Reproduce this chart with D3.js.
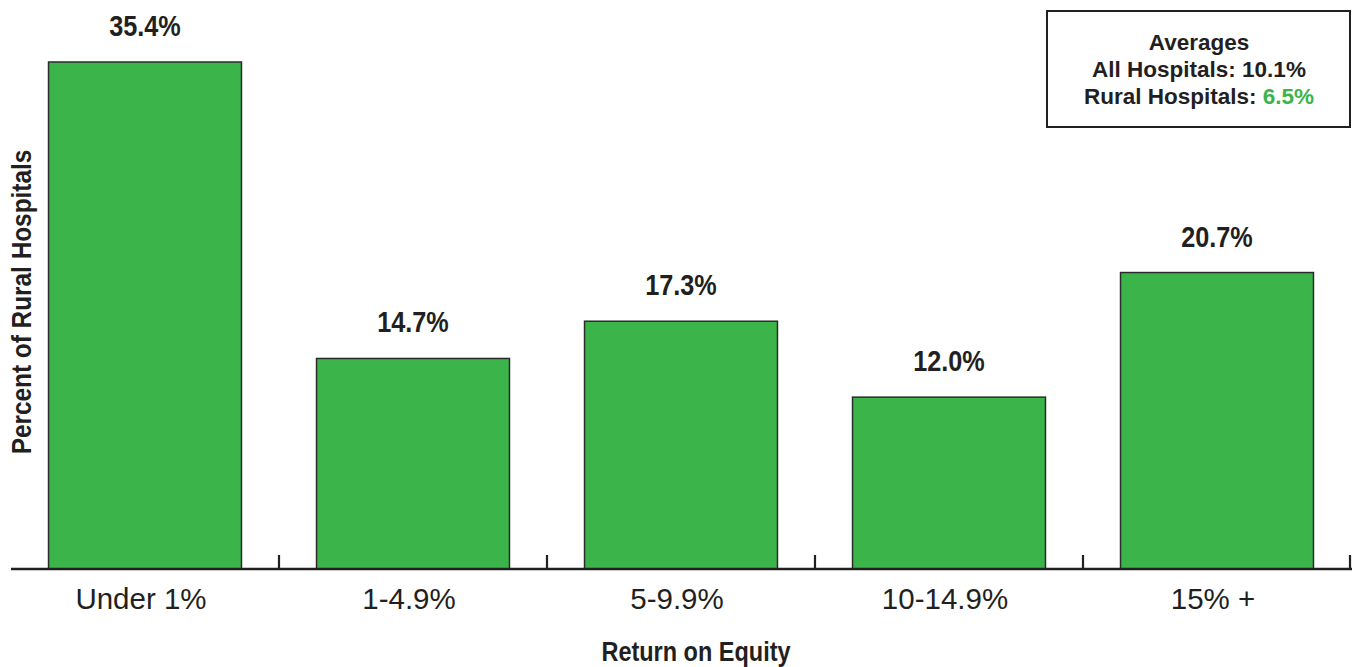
<!DOCTYPE html>
<html>
<head>
<meta charset="utf-8">
<script src="https://cdn.jsdelivr.net/npm/d3@7"></script>
<style>
  html, body { margin: 0; padding: 0; background: #fff; }
  svg { display: block; }
</style>
</head>
<body>
<svg id="chart" width="1353" height="667"></svg>
<script>
const categories = ["Under 1%", "1-4.9%", "5-9.9%", "10-14.9%", "15% +"];
const values = [35.4, 14.7, 17.3, 12.0, 20.7];
const valueLabels = ["35.4%", "14.7%", "17.3%", "12.0%", "20.7%"];
const xTitle = "Return on Equity";
const yTitle = "Percent of Rural Hospitals";
const legendTitle = "Averages";
const legendAllLabel = "All Hospitals: ";
const legendAllValue = "10.1%";
const legendRuralLabel = "Rural Hospitals: ";
const legendRuralValue = "6.5%";

const green = "#3bb54a";
const ink = "#231f20";
const font = "'Liberation Sans', Arial, Helvetica, sans-serif";
const squeeze = 0.87;

const svg = d3.select("#chart");

const x = d3.scaleBand().domain(categories).range([11, 1351]).paddingInner(0.28).paddingOuter(0.14);
const y = d3.scaleLinear().domain([0, d3.max(values)]).range([569, 62]);

// bars
svg.selectAll("rect.bar").data(values).join("rect")
  .attr("class", "bar")
  .attr("x", (d, i) => x(categories[i]))
  .attr("y", d => y(d))
  .attr("width", x.bandwidth())
  .attr("height", d => y(0) - y(d))
  .attr("fill", green)
  .attr("stroke", "#2b2b2b")
  .attr("stroke-width", 1.5);

// value labels (condensed bold)
svg.selectAll("text.val").data(values).join("text")
  .attr("class", "val")
  .attr("transform", (d, i) => `translate(${x(categories[i]) + x.bandwidth() / 2},${y(d) - 26}) scale(${squeeze},1)`)
  .attr("text-anchor", "middle")
  .attr("font-family", font)
  .attr("font-weight", "bold")
  .attr("font-size", 29)
  .attr("fill", ink)
  .text((d, i) => valueLabels[i]);

// x axis
const axis = d3.axisBottom(x).tickSize(0).tickPadding(0).tickFormat(d => d);
const gx = svg.append("g").attr("transform", `translate(0,${y(0)})`).call(axis);
gx.select(".domain").remove();
gx.selectAll(".tick text")
  .attr("font-family", font)
  .attr("font-size", 29.5)
  .attr("fill", ink)
  .attr("x", -4)
  .attr("y", 40)
  .attr("dy", 0);

svg.append("line")
  .attr("x1", 11).attr("x2", 1352)
  .attr("y1", y(0)).attr("y2", y(0))
  .attr("stroke", ink).attr("stroke-width", 2.5);

// boundary ticks between categories and at the right end
const boundaries = categories.map(c => x(c) + x.bandwidth() + x.step() * x.paddingInner() / 2);
svg.selectAll("line.tk").data(boundaries).join("line")
  .attr("class", "tk")
  .attr("x1", d => Math.min(d, 1350)).attr("x2", d => Math.min(d, 1350))
  .attr("y1", y(0) - 14).attr("y2", y(0))
  .attr("stroke", ink).attr("stroke-width", 2.2);

// axis titles
svg.append("text")
  .attr("transform", `translate(696,661) scale(${squeeze},1)`)
  .attr("text-anchor", "middle")
  .attr("font-family", font)
  .attr("font-weight", "bold")
  .attr("font-size", 27)
  .attr("fill", ink)
  .text(xTitle);

svg.append("text")
  .attr("transform", `translate(31,302) rotate(-90) scale(${squeeze},1)`)
  .attr("text-anchor", "middle")
  .attr("font-family", font)
  .attr("font-weight", "bold")
  .attr("font-size", 28)
  .attr("fill", ink)
  .text(yTitle);

// legend box
svg.append("rect")
  .attr("x", 1047).attr("y", 11)
  .attr("width", 303).attr("height", 116)
  .attr("fill", "#fff")
  .attr("stroke", ink).attr("stroke-width", 2);

const lg = svg.append("g")
  .attr("font-family", font)
  .attr("font-weight", "bold")
  .attr("font-size", 22.5)
  .attr("fill", ink)
  .attr("text-anchor", "middle");

lg.append("text").attr("x", 1199).attr("y", 50).text(legendTitle);
lg.append("text").attr("x", 1199).attr("y", 77).text(legendAllLabel + legendAllValue);
const t3 = lg.append("text").attr("x", 1199).attr("y", 104);
t3.append("tspan").text(legendRuralLabel);
t3.append("tspan").attr("fill", green).text(legendRuralValue);
</script>
</body>
</html>
